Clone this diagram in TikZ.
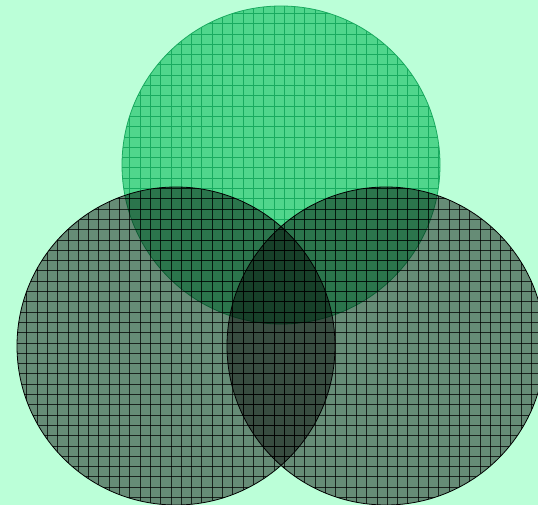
\documentclass[tikz,border=0pt]{standalone}
\definecolor{bgc}{RGB}{187,255,216}
\definecolor{topfill}{RGB}{80,214,140}
\definecolor{topline}{RGB}{25,170,95}
\tikzset{
  topgrid/.style={draw=topline,line width=0.7pt},
  botgrid/.style={draw=black,opacity=0.75,line width=0.7pt},
}
\begin{document}
\begin{tikzpicture}[x=1pt,y=-1pt]
\fill[bgc] (0,0) rectangle (538,505);
\useasboundingbox (0,0) rectangle (538,505);
% top circle
\fill[topfill] (281,165) circle (159);
\begin{scope}
  \clip (281,165) circle (159);
  \foreach \i in {0,...,52} {
    \draw[topgrid] ({6.1+\i*10.3},0) -- ({6.1+\i*10.3},505);
    \draw[topgrid] (0,{3+\i*10.3}) -- (538,{3+\i*10.3});
  }
\end{scope}
\draw[topline,line width=0.8pt] (281,165) circle (159);
% bottom circles
\foreach \cx in {176,386} {
  \fill[black,opacity=0.45] (\cx,346) circle (159);
  \begin{scope}
    \clip (\cx,346) circle (159);
    \foreach \i in {0,...,52} {
      \draw[botgrid] ({6.1+\i*10.3},0) -- ({6.1+\i*10.3},505);
      \draw[botgrid] (0,{3+\i*10.3}) -- (538,{3+\i*10.3});
    }
  \end{scope}
  \draw[black,line width=0.8pt] (\cx,346) circle (159);
}
\end{tikzpicture}
\end{document}
